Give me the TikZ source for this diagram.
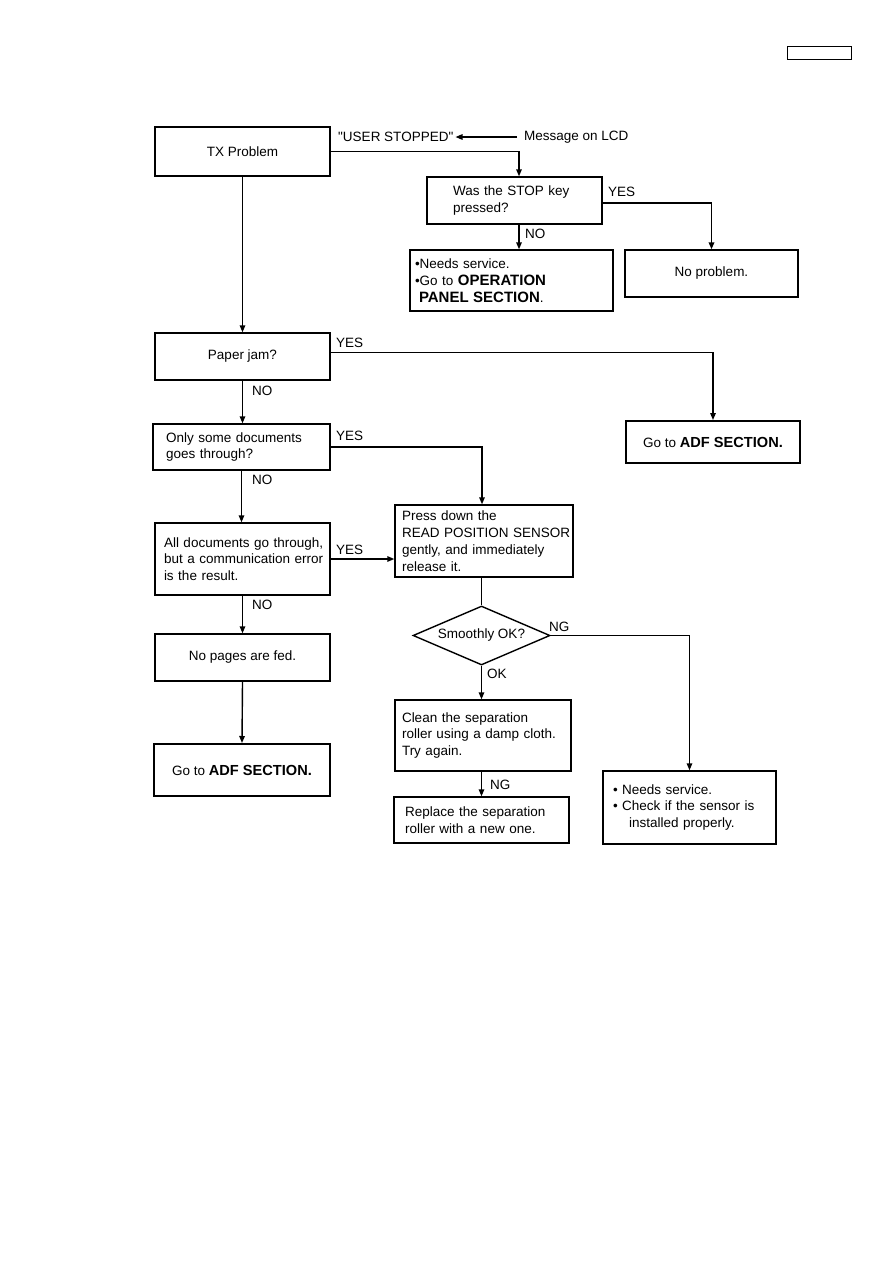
\documentclass[tikz,border=0pt]{standalone}
\usepackage{fontspec}
\setmainfont{Liberation Sans}
\newfontfamily\rawfont{Liberation Sans}
\usetikzlibrary{shapes.geometric,arrows.meta}
\newcommand{\bigbf}[2]{{\fontsize{#1}{16.8}\selectfont\bfseries #2}}
\begin{document}
\begin{tikzpicture}[x=1pt,y=-1pt,
  every node/.style={font=\fontsize{13.5}{16.8}\selectfont},
  box/.style={draw, line width=1.4pt, inner ysep=0pt},
  thickbox/.style={box, line width=2pt},
  lbl/.style={anchor=west, inner sep=0pt},
  conn/.style={line width=1.4pt},
  arr/.style={conn, -{Triangle[length=7pt,width=5.5pt]}},
]
\useasboundingbox (0,0) rectangle (893,1263);

\node[draw, line width=1pt, minimum width=64, minimum height=13, inner sep=0pt] (pagebox) at (819,53.5) {};

% nodes
\node[box, minimum width=175, minimum height=49] (tx) at (242.5,151.5) {TX Problem};
\node[lbl] (user) at (338,137) {{\rawfont"}USER STOPPED{\rawfont"}};
\node[lbl] (msg) at (524,137) {Message on LCD};
\node[box, minimum width=175, minimum height=47, inner xsep=26pt, text width=123pt, align=left] (stop) at (514.5,200.5) {\mbox{Was the STOP key}\\\mbox{pressed?}};
\node[box, minimum width=203, minimum height=61, inner xsep=5pt, text width=193pt, align=left] (svc1) at (511.5,280.5) {\mbox{•Needs service.}\\\mbox{•Go to \bigbf{15}{OPERATION}}\\\mbox{\hspace*{4pt}\bigbf{15}{PANEL SECTION}.}};
\node[box, minimum width=173, minimum height=47] (noprob) at (711.5,273.5) {No problem.};
\node[box, minimum width=175, minimum height=47] (jam) at (242.5,356.5) {Paper jam?};
\node[thickbox, minimum width=174, minimum height=42] (adf1) at (713,442) {Go to \bigbf{14.6}{ADF SECTION.}};
\node[box, minimum width=177, minimum height=46, inner xsep=13pt, text width=151pt, align=left] (only) at (241.5,447) {\mbox{Only some documents}\\\mbox{goes through?}};
\node[box, minimum width=175, minimum height=72, inner xsep=9pt, text width=157pt, align=left] (all) at (242.5,559) {\mbox{All documents go through,}\\\mbox{but a communication error}\\\mbox{is the result.}};
\node[box, minimum width=178, minimum height=72, inner xsep=7pt, text width=164pt, align=left] (press) at (484,541) {\mbox{Press down the}\\\mbox{READ POSITION SENSOR}\\\mbox{gently, and immediately}\\\mbox{release it.}};
\node[box, minimum width=175, minimum height=47] (nopages) at (242.5,657.5) {No pages are fed.};
\node[thickbox, minimum width=176, minimum height=52] (adf2) at (242,770) {Go to \bigbf{14.6}{ADF SECTION.}};
\node[draw, line width=1.4pt, shape=diamond, shape aspect=2.32, inner sep=0pt, minimum width=137, minimum height=59] (dia) at (481.5,635.5) {Smoothly OK?};
\node[box, minimum width=176, minimum height=71, inner xsep=7pt, text width=162pt, align=left] (clean) at (483,735.5) {\mbox{Clean the separation}\\\mbox{roller using a damp cloth.}\\\mbox{Try again.}};
\node[box, minimum width=175, minimum height=46, inner xsep=11pt, text width=153pt, align=left] (replace) at (481.5,820) {\mbox{Replace the separation}\\\mbox{roller with a new one.}};
\node[box, minimum width=173, minimum height=73, inner xsep=10pt, text width=153pt, align=left] (svc2) at (689.5,807.5) {\mbox{• Needs service.}\\\mbox{• Check if the sensor is}\\\mbox{\hspace*{16pt}installed properly.}};

% labels
\node[lbl] (l1) at (608,192) {YES};
\node[lbl] (l2) at (525,234) {NO};
\node[lbl] (l3) at (336,343) {YES};
\node[lbl] (l4) at (252,391) {NO};
\node[lbl] (l5) at (336,436) {YES};
\node[lbl] (l6) at (252,480) {NO};
\node[lbl] (l7) at (336,550) {YES};
\node[lbl] (l8) at (252,605) {NO};
\node[lbl] (l9) at (549,627) {NG};
\node[lbl] (l10) at (487,674) {OK};
\node[lbl] (l11) at (490,785) {NG};

% connectors
\draw[arr] ([xshift=-7pt]msg.west) -- ([xshift=2pt]user.east);
\draw[arr] (tx.east) -| ([xshift=4.5pt]stop.north);
\draw[arr] ([xshift=4.5pt]stop.south) -- ([xshift=4.5pt]stop.south |- svc1.north);
\draw[arr, line width=1.9pt] ([yshift=-2.5pt]stop.east) -| (noprob.north);
\draw[arr] (tx.south) -- (jam.north);
\draw[arr] ([yshift=4pt]jam.east) -| (adf1.north);
\draw[arr] (jam.south) -- (jam.south |- only.north);
\draw[arr] (only.east) -| ([xshift=-2pt]press.north);
\draw[arr] (only.south) -- (only.south |- all.north);
\draw[arr] (all.east) -- (all.east -| press.west);
\draw[arr] (all.south) -- (all.south |- nopages.north);
\draw[arr] (nopages.south) -- (adf2.north);
\draw[conn] (press.south -| dia.north) -- (dia.north);
\draw[arr] (dia.south) -- (dia.south |- clean.north);
\draw[arr] (clean.south -| dia.south) -- (dia.south |- replace.north);
\draw[arr] (dia.east) -| (svc2.north);
\end{tikzpicture}
\end{document}
